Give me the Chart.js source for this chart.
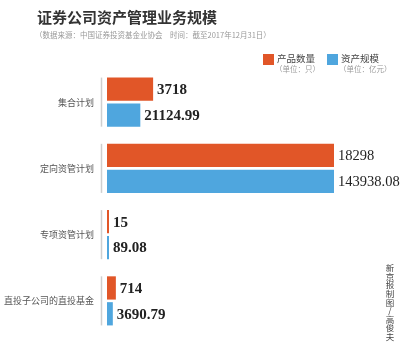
<!DOCTYPE html>
<html>
<head>
<meta charset="utf-8">
<script src="https://cdn.jsdelivr.net/npm/chart.js@4.4.1/dist/chart.umd.min.js"></script>
<style>
  html, body { margin: 0; padding: 0; background: #fff; }
  #kutu { position: relative; width: 400px; height: 346px; }
</style>
</head>
<body>
<div id="kutu"><canvas id="zichanChart"></canvas></div>
<script>
/* VERILER */
var kategoriler = ["集合计划", "定向资管计划", "专项资管计划", "直投子公司的直投基金"];
var urunSayisi = [3718, 18298, 15, 714];
var varlikBuyuklugu = [21124.99, 143938.08, 89.08, 3690.79];
var seriAdlari = ["产品数量", "资产规模"];
var seriBirimleri = ["（单位：只）", "（单位：亿元）"];
var baslik = "证券公司资产管理业务规模";
var altBaslik = "（数据来源：中国证券投资基金业协会　时间：截至2017年12月31日）";
var imza = "新京报制图/高俊夫";
/* VERILER */

var turuncu = "#e15628";
var mavi = "#4fa6de";
var cjk = "'Noto Sans CJK SC', sans-serif";

var yaziPlugin = {
  id: "yaziPlugin",
  afterDraw: function (chart) {
    var ctx = chart.ctx;
    ctx.save();

    // baslik ve kaynak
    ctx.fillStyle = "#333";
    ctx.textBaseline = "alphabetic";
    ctx.textAlign = "left";
    ctx.font = "bold 15px " + cjk;
    ctx.fillText(baslik, 37, 23);
    ctx.fillStyle = "#999";
    ctx.font = "7.5px " + cjk;
    ctx.fillText(altBaslik, 35, 38);

    // lejant
    var renkler = [turuncu, mavi];
    var lx = [263, 327];
    for (var k = 0; k < 2; k++) {
      ctx.fillStyle = renkler[k];
      ctx.fillRect(lx[k], 54, 11, 11);
      ctx.fillStyle = "#444";
      ctx.font = "9.5px " + cjk;
      ctx.textBaseline = "middle";
      ctx.fillText(seriAdlari[k], lx[k] + 14, 58);
      ctx.fillStyle = "#999";
      ctx.font = "7.5px " + cjk;
      ctx.fillText(seriBirimleri[k], lx[k] + 12, 69);
    }

    // kategori adlari ve gri eksen parcalari
    var m0 = chart.getDatasetMeta(0);
    var m1 = chart.getDatasetMeta(1);
    for (var i = 0; i < kategoriler.length; i++) {
      var ust = m0.data[i].y - m0.data[i].height / 2;
      var alt = m1.data[i].y + m1.data[i].height / 2;
      ctx.strokeStyle = "#cfcfcf";
      ctx.lineWidth = 1.5;
      ctx.beginPath();
      ctx.moveTo(101.5, ust);
      ctx.lineTo(101.5, alt);
      ctx.stroke();

      ctx.fillStyle = "#555";
      ctx.font = "9px " + cjk;
      ctx.textAlign = "right";
      ctx.textBaseline = "middle";
      ctx.fillText(kategoriler[i], 94, (ust + alt) / 2);
    }

    // bar degerleri
    ctx.textAlign = "left";
    ctx.textBaseline = "middle";
    ctx.fillStyle = "#222";
    for (var d = 0; d < 2; d++) {
      var meta = chart.getDatasetMeta(d);
      var veri = chart.data.datasets[d].data;
      for (var j = 0; j < meta.data.length; j++) {
        var bar = meta.data[j];
        var metin = d === 0 ? String(veri[j]) : veri[j].toFixed(2);
        // en uzun grup ince yazi
        ctx.font = (j === 1 ? "14.5px" : "bold 15px") + " 'Liberation Serif', serif";
        ctx.fillText(metin, bar.x + 4, bar.y + 1);
      }
    }

    // imza (dikey)
    ctx.fillStyle = "#444";
    ctx.font = "8.5px " + cjk;
    ctx.textAlign = "center";
    var harfler = Array.from(imza);
    for (var h = 0; h < harfler.length; h++) {
      ctx.fillText(harfler[h], 390, 268 + h * 8.6);
    }

    ctx.restore();
  }
};

var ctx = document.getElementById("zichanChart");
var myChart = new Chart(ctx, {
  type: "bar",
  data: {
    labels: kategoriler,
    datasets: [{
      label: seriAdlari[0],
      data: urunSayisi,
      backgroundColor: turuncu,
      xAxisID: "x",
      minBarLength: 2,
      categoryPercentage: 0.78,
      barPercentage: 0.9
    }, {
      label: seriAdlari[1],
      data: varlikBuyuklugu,
      backgroundColor: mavi,
      xAxisID: "x2",
      minBarLength: 2,
      categoryPercentage: 0.78,
      barPercentage: 0.9
    }]
  },
  options: {
    indexAxis: "y",
    responsive: true,
    maintainAspectRatio: false,
    animation: false,
    devicePixelRatio: 1,
    layout: { padding: { left: 107, right: 66, top: 69, bottom: 12 } },
    plugins: {
      legend: { display: false },
      tooltip: { enabled: false }
    },
    scales: {
      y: { display: false },
      x: { display: false, min: 0, max: Math.max.apply(null, urunSayisi) },
      x2: { display: false, position: "bottom", min: 0, max: Math.max.apply(null, varlikBuyuklugu) }
    }
  },
  plugins: [yaziPlugin]
});
</script>
</body>
</html>
